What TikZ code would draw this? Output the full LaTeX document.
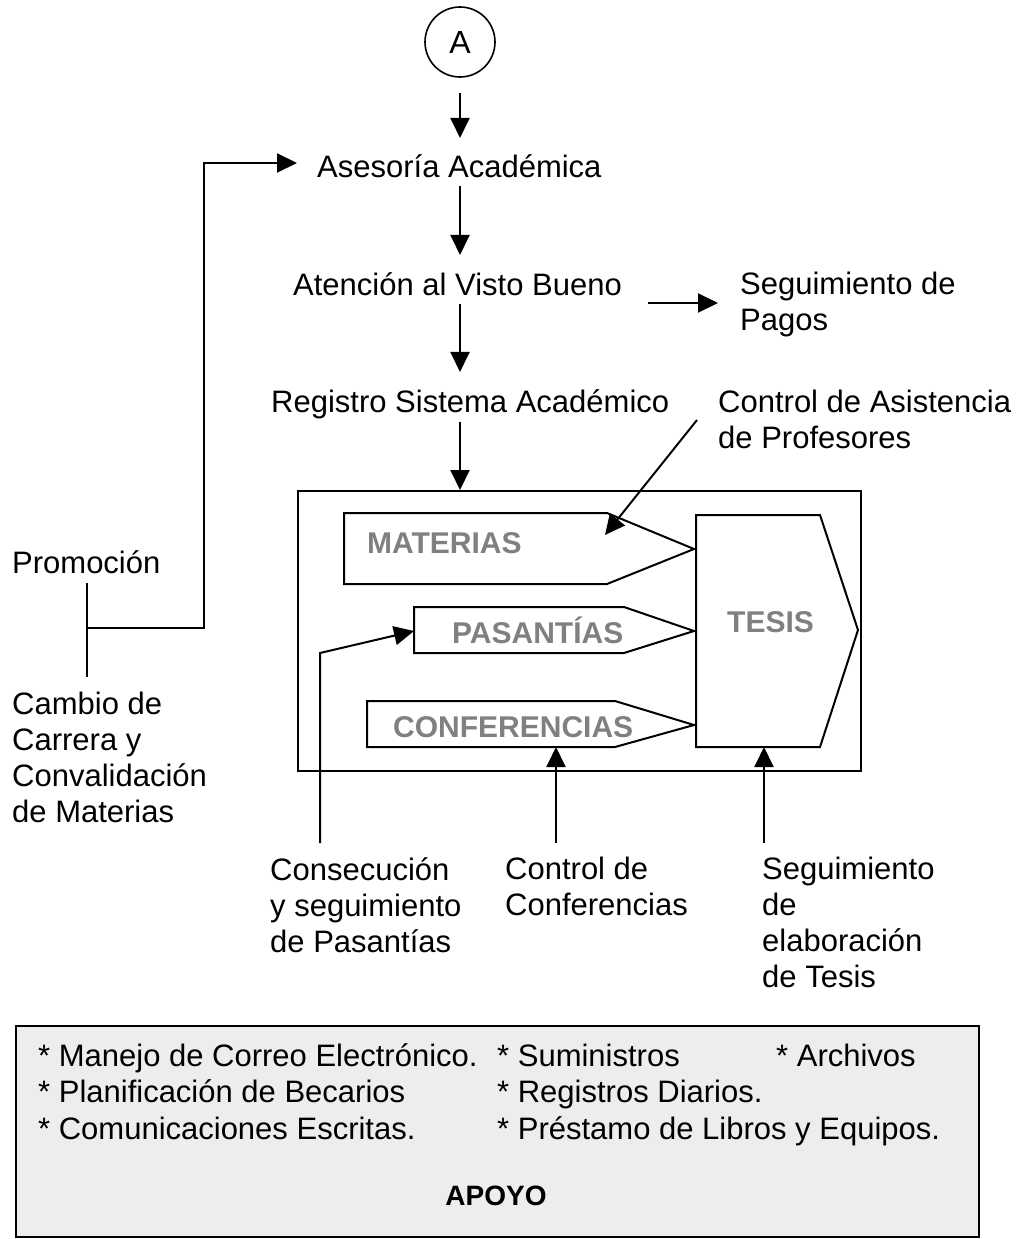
\documentclass[tikz,border=0pt]{standalone}
\usepackage{fontspec}
\setmainfont{Liberation Sans}
\usetikzlibrary{arrows.meta}
\begin{document}
\begin{tikzpicture}[x=1pt,y=-1pt,
  lbl/.style={inner sep=0pt, font=\fontsize{31}{36}\selectfont, align=left},
  gtxt/.style={inner sep=0pt, anchor=base west, font=\fontsize{30}{36}\selectfont\bfseries, text=black!50},
  arr/.style={line width=2pt, -{Triangle[length=20pt,width=19pt]}},
  ln/.style={line width=2pt},
  shp/.style={line width=2pt, line join=miter, fill=white},
]
\useasboundingbox (0,0) rectangle (1018,1239);

% top flow
\node[draw, circle, minimum size=70pt, inner sep=0pt, line width=1.6pt, font=\fontsize{32}{36}\selectfont] (A) at (460,42) {A};
\node[lbl, anchor=base west] (ases) at (317,177) {Asesoría Académica};
\node[lbl, anchor=base west] (aten) at (293,295) {Atención al Visto Bueno};
\node[lbl, anchor=base west] (reg) at (271,412) {Registro Sistema Académico};
\node[lbl, anchor=north west] (pagos) at (740,272) {Seguimiento de\\Pagos};
\node[lbl, anchor=north west] (asist) at (718,390) {Control de Asistencia\\de Profesores};

% left
\node[lbl, anchor=base west] (promo) at (12,573) {Promoción};
\node[lbl, anchor=north west] (cambio) at (12,692) {Cambio de\\Carrera y\\Convalidación\\de Materias};

% bottom labels
\node[lbl, anchor=north west] (cons) at (270,857) {Consecución\\y seguimiento\\de Pasantías};
\node[lbl, anchor=north west] (ctrlc) at (505,857) {Control de\\Conferencias};
\node[lbl, anchor=north west] (segt) at (762,857) {Seguimiento\\de\\elaboración\\de Tesis};

% central box
\node[draw, line width=2pt, minimum width=563pt, minimum height=280pt, inner sep=0pt, anchor=north west] (box) at (297,490) {};
\draw[shp] (344,513) -- (607,513) -- (694,549) -- (607,584) -- (344,584) -- cycle;
\draw[shp] (414,607) -- (624,607) -- (694,631) -- (624,653) -- (414,653) -- cycle;
\draw[shp] (367,701) -- (615,701) -- (694,725) -- (615,747) -- (367,747) -- cycle;
\draw[shp] (696,515) -- (820,515) -- (858,630) -- (820,747) -- (696,747) -- cycle;
\node[gtxt] (mat) at (367,553) {MATERIAS};
\node[gtxt] (pas) at (452,643) {PASANTÍAS};
\node[gtxt] (conf) at (393,737) {CONFERENCIAS};
\node[gtxt] (tes) at (727,632) {TESIS};

\coordinate (matT) at (605,535);
\coordinate (asS) at (697,420);
\coordinate (pasW) at (414,631);
\coordinate (pasBend) at (320,653);
\coordinate (consS) at (320,843);
\coordinate (confB) at (556,747);
\coordinate (tesB) at (764,747);
\coordinate (j) at (87,628);
\coordinate (asW) at (297,163);

% connectors
\draw[arr] ([yshift=-15pt]A.south) -- ([yshift=16pt]A.south |- ases.north);
\draw[arr] ([yshift=-8pt]A.south |- ases.south) -- ([yshift=17pt]A.south |- aten.north);
\draw[arr] ([yshift=-8pt]A.south |- aten.south) -- ([yshift=17pt]A.south |- reg.north);
\draw[arr] ([yshift=-3pt]A.south |- reg.south) -- (A.south |- box.north);
\draw[arr] ([xshift=26pt,yshift=-8pt]aten.base east) -- ([xshift=-22pt,yshift=-8pt]aten.base east -| pagos.west);
\draw[arr] (asS) -- (matT);
\draw[arr] (consS) -- (pasBend) -- (pasW);
\draw[arr] ([yshift=14pt]ctrlc.north -| confB) -- (confB);
\draw[arr] ([yshift=14pt]segt.north -| tesB) -- (tesB);
\draw[ln] ([yshift=-9pt]promo.south -| j) -- ([yshift=15pt]cambio.north -| j);
\draw[arr] (j) -- ++(117,0) |- (asW);

% support box
\node[draw, line width=1.8pt, fill=black!7, minimum width=963pt, minimum height=211pt, inner sep=0pt, anchor=north west] (apoyo) at (15,1025) {};
\node[lbl, anchor=base west] (t1) at (38,1066) {* Manejo de Correo Electrónico.};
\node[lbl, anchor=base west] (t2) at (497,1066) {* Suministros};
\node[lbl, anchor=base west] (t3) at (776,1066) {* Archivos};
\node[lbl, anchor=base west] (t4) at (38,1102) {* Planificación de Becarios};
\node[lbl, anchor=base west] (t5) at (497,1102) {* Registros Diarios.};
\node[lbl, anchor=base west] (t6) at (38,1139) {* Comunicaciones Escritas.};
\node[lbl, anchor=base west] (t7) at (497,1139) {* Préstamo de Libros y Equipos.};
\node[lbl, anchor=base, font=\fontsize{28}{33}\selectfont\bfseries] (ap) at (496,1205) {APOYO};
\end{tikzpicture}
\end{document}
